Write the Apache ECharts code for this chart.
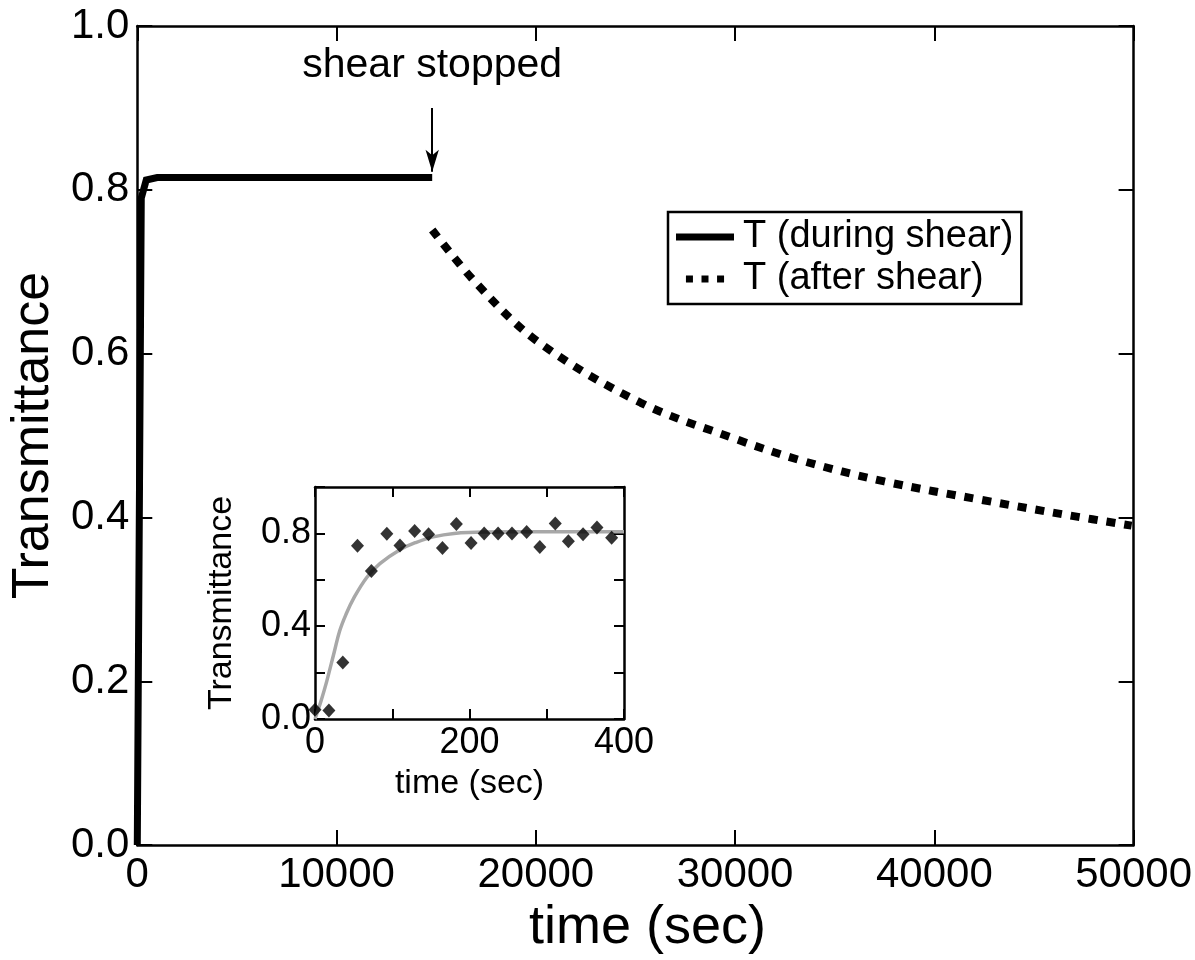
<!DOCTYPE html>
<html>
<head>
<meta charset="utf-8">
<script src="https://cdn.jsdelivr.net/npm/echarts@6/dist/echarts.min.js"></script>
<style>
  html, body { margin: 0; padding: 0; background: #fff; }
  #chart { width: 1195px; height: 960px; }
</style>
</head>
<body>
<div id="chart"></div>
<script>
// Transmittance during shear (sec, T)
const shearTime = [0, 200, 450, 1000, 14800];
const shearT = [0, 0.79, 0.812, 0.815, 0.815];

// Transmittance relaxation after shear was stopped
const afterTime = [14800, 17050, 20140, 25270, 30010, 33250, 37490, 42470, 46660, 49900];
const afterT = [0.751, 0.685, 0.614, 0.540, 0.496, 0.470, 0.444, 0.421, 0.403, 0.390];

// Early-time measurements (inset)
const insetTime = [0, 18, 36, 55, 73, 93, 110, 129, 147, 165, 183, 202, 219, 237, 255, 274, 291, 311, 328, 347, 365, 384];
const insetT = [0.04, 0.037, 0.243, 0.747, 0.638, 0.799, 0.748, 0.81, 0.796, 0.737, 0.84, 0.759, 0.80, 0.80, 0.80, 0.806, 0.741, 0.843, 0.766, 0.796, 0.825, 0.781];

// Fitted rise curve (inset)
const fitTime = [0, 8, 15, 25, 32, 40, 50, 67, 84, 110, 130, 153, 180, 220, 300, 400];
const fitT = [0, 0.08, 0.16, 0.29, 0.38, 0.45, 0.52, 0.61, 0.67, 0.73, 0.76, 0.785, 0.80, 0.806, 0.807, 0.807];

const mainXTicks = [0, 10000, 20000, 30000, 40000, 50000];
const insetXLabels = [0, 200, 400];
const insetYLabels = [0, 0.4, 0.8];

const FONT = '"Liberation Sans", Arial, sans-serif';
const pair = (xs, ys) => xs.map((x, i) => [x, ys[i]]);

const chart = echarts.init(document.getElementById('chart'), null, { renderer: 'canvas' });

function frame(extra, tickLen) {
  return Object.assign({
    type: 'value',
    splitLine: { show: false },
    axisLine: { show: true, onZero: false, lineStyle: { color: '#000', width: 2.5 } },
    axisTick: { show: true, inside: true, length: tickLen, lineStyle: { width: 2, color: '#000' } }
  }, extra);
}

chart.setOption({
  animation: false,
  backgroundColor: '#fff',
  grid: [
    { left: 137, top: 26, width: 1003, height: 823, show: false },
    { left: 315, top: 487, width: 309, height: 232, show: true, backgroundColor: '#fff', borderColor: 'transparent' }
  ],
  legend: {
    data: [
      { name: 'T (during shear)', icon: 'rect' },
      { name: 'T (after shear)', icon: 'path://M0,0h9v9h-9z M20,0h9v9h-9z M40,0h9v9h-9z' }
    ],
    orient: 'vertical',
    left: 668, top: 212,
    itemWidth: 58, itemHeight: 7, itemGap: 4,
    padding: [6, 8, 6, 8],
    borderColor: '#000', borderWidth: 2.5, borderRadius: 0,
    backgroundColor: '#fff',
    textStyle: { fontFamily: FONT, fontSize: 38, color: '#000', padding: [0, 0, 0, 4] }
  },
  xAxis: [
    frame({
      gridIndex: 0, min: 0, max: 50000, interval: 10000,
      name: 'time (sec)', nameLocation: 'middle', nameGap: 50,
      nameTextStyle: { fontFamily: FONT, fontSize: 54, color: '#000', padding: [0, 0, 0, 24] },
      axisLabel: { fontFamily: FONT, fontSize: 42, color: '#000', margin: 9,
        formatter: v => mainXTicks.includes(v) ? String(v) : '' }
    }, 15),
    frame({ gridIndex: 0, position: 'top', min: 0, max: 50000, interval: 10000,
      axisLabel: { show: false } }, 15),
    frame({
      gridIndex: 1, min: 0, max: 400, interval: 100,
      name: 'time (sec)', nameLocation: 'middle', nameGap: 48,
      nameTextStyle: { fontFamily: FONT, fontSize: 34, color: '#000' },
      axisLabel: { fontFamily: FONT, fontSize: 36, color: '#000', margin: 6,
        formatter: v => insetXLabels.includes(v) ? String(v) : '' }
    }, 10),
    frame({ gridIndex: 1, position: 'top', min: 0, max: 400, interval: 100,
      axisLabel: { show: false } }, 10)
  ],
  yAxis: [
    frame({
      gridIndex: 0, min: 0, max: 1, interval: 0.2,
      name: 'Transmittance', nameLocation: 'middle', nameGap: 76,
      nameTextStyle: { fontFamily: FONT, fontSize: 52, color: '#000' },
      axisLabel: { fontFamily: FONT, fontSize: 42, color: '#000', margin: 8,
        formatter: v => v.toFixed(1) }
    }, 15),
    frame({ gridIndex: 0, position: 'right', min: 0, max: 1, interval: 0.2,
      axisLabel: { show: false } }, 15),
    frame({
      gridIndex: 1, min: 0, max: 1, interval: 0.2,
      name: 'Transmittance', nameLocation: 'middle', nameGap: 76,
      nameTextStyle: { fontFamily: FONT, fontSize: 34, color: '#000' },
      axisLabel: { fontFamily: FONT, fontSize: 36, color: '#000', margin: 4,
        formatter: v => insetYLabels.some(l => Math.abs(l - v) < 1e-9) ? v.toFixed(1) : '' }
    }, 10),
    frame({ gridIndex: 1, position: 'right', min: 0, max: 1, interval: 0.2,
      axisLabel: { show: false } }, 10)
  ],
  series: [
    {
      name: 'T (during shear)', type: 'line', xAxisIndex: 0, yAxisIndex: 0,
      data: pair(shearTime, shearT), showSymbol: false, symbol: 'none',
      lineStyle: { color: '#000', width: 7, cap: 'butt', join: 'miter' },
      itemStyle: { color: '#000' },
      markLine: {
        silent: true,
        symbol: ['none', 'arrow'], symbolSize: [10, 22],
        lineStyle: { color: '#000', width: 2, type: 'solid' },
        label: { show: true, position: 'start', formatter: 'shear stopped', distance: 22,
          fontFamily: FONT, fontSize: 41, color: '#000' },
        data: [[{ coord: [14800, 0.9] }, { coord: [14800, 0.822] }]]
      }
    },
    {
      name: 'T (after shear)', type: 'line', xAxisIndex: 0, yAxisIndex: 0,
      data: pair(afterTime, afterT), showSymbol: false, symbol: 'none', smooth: 0.35,
      lineStyle: { color: '#000', width: 8, type: [9, 9], cap: 'butt' },
      itemStyle: { color: '#000' }
    },
    {
      name: 'fit', type: 'line', xAxisIndex: 2, yAxisIndex: 2,
      data: pair(fitTime, fitT), showSymbol: false, symbol: 'none', smooth: 0.4,
      lineStyle: { color: '#a8a8a8', width: 3.5 }, z: 2
    },
    {
      name: 'data', type: 'scatter', xAxisIndex: 2, yAxisIndex: 2,
      data: pair(insetTime, insetT), symbol: 'diamond', symbolSize: [13, 14],
      itemStyle: { color: '#000' }, z: 3
    }
  ]
});
</script>
</body>
</html>
